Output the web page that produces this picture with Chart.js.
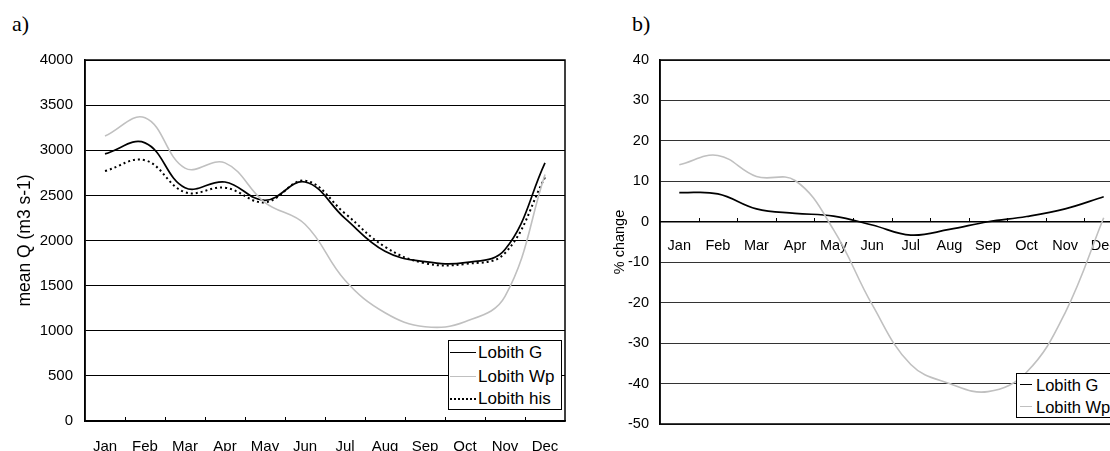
<!DOCTYPE html>
<html><head><meta charset="utf-8">
<script src="https://cdn.jsdelivr.net/npm/chart.js@4.4.1/dist/chart.umd.min.js"></script>
<style>
html,body{margin:0;padding:0;background:#fff;overflow:hidden;width:1110px;height:451px;}
body{position:relative;}
canvas{position:absolute;top:0;}
#ca{left:0}
#cb{left:560px}
.plabel{position:absolute;font-family:"Liberation Serif","Times New Roman",serif;font-size:22px;color:#000;line-height:1;}
.legend{position:absolute;background:#fff;border:1px solid #000;font-family:"Liberation Sans",Arial,sans-serif;color:#000;box-sizing:border-box;}
.row{position:absolute;left:0;height:22px;width:100%;}
.sample{position:absolute;top:10px;height:0;}
.txt{position:absolute;top:0;line-height:22px;white-space:nowrap;}
</style></head>
<body>
<div class="plabel" style="left:12px;top:13px">a)</div>
<div class="plabel" style="left:632px;top:13px">b)</div>
<canvas id="ca" width="580" height="451"></canvas>
<canvas id="cb" width="580" height="451"></canvas>
<div class="legend" id="lega" style="left:448px;top:340px;width:114px;height:70px"></div>
<div class="legend" id="legb" style="left:1016px;top:373px;width:120px;height:45px"></div>
<script>
// ---- data ----
const months = ['Jan','Feb','Mar','Apr','May','Jun','Jul','Aug','Sep','Oct','Nov','Dec'];
const qTicks = [0,500,1000,1500,2000,2500,3000,3500,4000];
const pctTicks = [-50,-40,-30,-20,-10,0,10,20,30,40];
const seriesNamesA = ['Lobith G','Lobith Wp','Lobith his'];
const seriesNamesB = ['Lobith G','Lobith Wp'];
const lobithG_Q   = [2960,3082,2585,2648,2445,2648,2245,1880,1765,1755,1900,2860];
const lobithWp_Q  = [3157,3360,2802,2860,2420,2180,1560,1200,1045,1100,1380,2730];
const lobithHis_Q = [2770,2889,2535,2585,2423,2663,2300,1930,1748,1740,1860,2700];
const lobithG_pct  = [7.2,6.9,3.2,2.1,1.4,-0.8,-3.3,-1.9,0,1.3,3.2,6.2];
const lobithWp_pct = [14.1,16.4,11.2,10.2,-2,-20.5,-35.3,-40,-42,-37.2,-22.5,1];

Chart.defaults.font.family = "'Liberation Sans', Arial, sans-serif";
Chart.defaults.color = '#000';

const styles = {
  'Lobith G':   {borderColor:'#000', borderWidth:1.7, borderDash:[]},
  'Lobith Wp':  {borderColor:'#c0c0c0', borderWidth:1.6, borderDash:[]},
  'Lobith his': {borderColor:'#000', borderWidth:2, borderDash:[2,3]}
};

const frameTicks = {
  id:'frameTicks',
  afterDatasetsDraw(chart, args, opts){
    const {ctx, chartArea:a, scales:{x,y}} = chart;
    ctx.save();
    ctx.strokeStyle = '#000';
    ctx.lineWidth = 1.5;
    ctx.strokeRect(a.left, a.top, a.right-a.left, a.bottom-a.top);
    const y0 = opts.atZero ? Math.round(y.getPixelForValue(0)) : a.bottom;
    ctx.lineWidth = 1;
    for (let i=1;i<months.length;i++){
      const px = Math.round(x.getPixelForValue(i-0.5))+0.5;
      ctx.beginPath(); ctx.moveTo(px,y0); ctx.lineTo(px,y0-4); ctx.stroke();
    }
    ctx.restore();
  }
};

function mkDs(name, data){
  const s = styles[name];
  return {label:name, data, borderColor:s.borderColor, borderWidth:s.borderWidth,
    borderDash:s.borderDash, pointRadius:0, tension:0.4, fill:false};
}

new Chart(document.getElementById('ca'), {
  type:'line',
  data:{labels:months, datasets:[
    mkDs('Lobith Wp', lobithWp_Q),
    mkDs('Lobith his', lobithHis_Q),
    mkDs('Lobith G', lobithG_Q)
  ]},
  options:{
    responsive:false, animation:false, devicePixelRatio:1,
    layout:{padding:{left:0,top:60,right:15,bottom:0}},
    plugins:{legend:{display:false}, tooltip:{enabled:false}, frameTicks:{atZero:false}},
    scales:{
      x:{type:'category', offset:true, grid:{display:false}, border:{display:true,color:'#000',width:1.5},
        ticks:{font:{size:15}, padding:9, maxRotation:0, autoSkip:false},
        afterFit(s){ s.height = 30; }},
      y:{min:0, max:4000,
        afterBuildTicks(s){ s.ticks = qTicks.map(v=>({value:v})); },
        grid:{color:'#000', lineWidth:1, drawTicks:false},
        border:{display:true,color:'#000',width:1.5},
        ticks:{font:{size:15}, padding:12, callback:v=>String(v)},
        title:{display:true, text:'mean Q (m3 s-1)', font:{size:17.5}, padding:{top:15,bottom:0}},
        afterFit(s){ s.width = 85; }}
    }
  },
  plugins:[frameTicks]
});

new Chart(document.getElementById('cb'), {
  type:'line',
  data:{labels:months, datasets:[
    mkDs('Lobith Wp', lobithWp_pct),
    mkDs('Lobith G', lobithG_pct)
  ]},
  options:{
    responsive:false, animation:false, devicePixelRatio:1,
    layout:{padding:{left:0,top:60,right:17,bottom:27}},
    plugins:{legend:{display:false}, tooltip:{enabled:false}, frameTicks:{atZero:true}},
    scales:{
      x:{type:'category', offset:true, position:{y:0}, grid:{display:false},
        border:{display:true,color:'#000',width:1.5},
        ticks:{font:{size:14.5}, padding:8, maxRotation:0, autoSkip:false}},
      y:{min:-50, max:40,
        afterBuildTicks(s){ s.ticks = pctTicks.map(v=>({value:v})); },
        grid:{color:'#333', lineWidth:1, drawTicks:false},
        border:{display:true,color:'#000',width:1.5},
        ticks:{font:{size:14.5}, padding:11, callback:v=>String(v)},
        title:{display:true, text:'% change', font:{size:14.5}, padding:{top:51,bottom:0}},
        afterFit(s){ s.width = 100; }}
    }
  },
  plugins:[frameTicks]
});

function buildLegend(id, names, rowTops, sampleLeft, sampleW, textLeft, fontSize){
  const el = document.getElementById(id);
  names.forEach((n,i)=>{
    const s = styles[n];
    const row = document.createElement('div');
    row.className='row'; row.style.top = rowTops[i]+'px';
    const smp = document.createElement('div');
    smp.className='sample';
    smp.style.left = sampleLeft+'px'; smp.style.width = sampleW+'px';
    smp.style.borderTop = (s.borderDash.length? '2px dotted ':'1.5px solid ') + s.borderColor;
    const t = document.createElement('div');
    t.className='txt'; t.style.left = textLeft+'px'; t.style.fontSize = fontSize+'px';
    t.textContent = n;
    row.appendChild(smp); row.appendChild(t); el.appendChild(row);
  });
}
buildLegend('lega', seriesNamesA, [1,25,47], 1, 26, 29, 17);
buildLegend('legb', seriesNamesB, [0,22], 3, 12, 19, 16.5);
</script>
</body></html>
